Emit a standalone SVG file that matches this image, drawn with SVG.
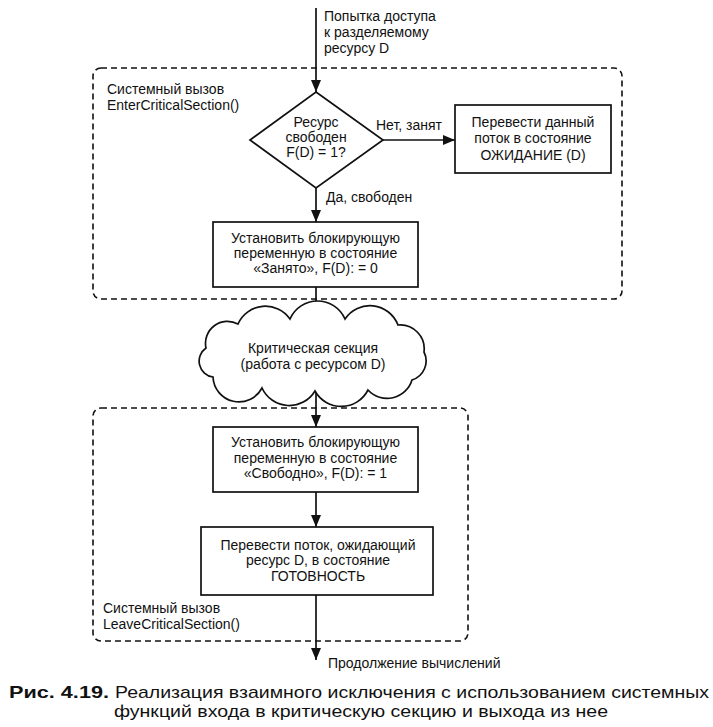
<svg xmlns="http://www.w3.org/2000/svg" width="713" height="727" viewBox="0 0 713 727">
<defs>
<style>
text{font-family:"Liberation Sans",Arial,sans-serif;font-size:14px;fill:#111}
.c{text-anchor:middle}
.box{fill:#fff;stroke:#111;stroke-width:1.7}
.dash{fill:none;stroke:#111;stroke-width:1.6;stroke-dasharray:6 4}
.ln{fill:none;stroke:#111;stroke-width:1.7}
.cap{font-size:17px}
</style>
<marker id="ah" markerUnits="userSpaceOnUse" markerWidth="12" markerHeight="10" refX="12" refY="5" orient="auto">
<path d="M0,0 L12,5 L0,10 z" fill="#111"/>
</marker>
</defs>
<rect width="713" height="727" fill="#fff"/>

<g id="enter-group">
<rect class="dash" x="93" y="68" width="529" height="231" rx="8"/>
<text x="107" y="94">Системный вызов</text>
<text x="107" y="110">EnterCriticalSection()</text>
</g>

<g id="leave-group">
<rect class="dash" x="93" y="408" width="375" height="233" rx="8"/>
<text x="103" y="613">Системный вызов</text>
<text x="103" y="629">LeaveCriticalSection()</text>
</g>

<g id="connectors">
<path class="ln" d="M316,8 L316,92" marker-end="url(#ah)"/>
<path class="ln" d="M383,140 L455,140" marker-end="url(#ah)"/>
<path class="ln" d="M316,188 L316,222" marker-end="url(#ah)"/>
<path class="ln" d="M316,287 L316,319" marker-end="url(#ah)"/>
<path class="ln" d="M316,391 L316,427" marker-end="url(#ah)"/>
<path class="ln" d="M316,492 L316,527" marker-end="url(#ah)"/>
<path class="ln" d="M316,595 L316,660" marker-end="url(#ah)"/>
<text x="324" y="21">Попытка доступа</text>
<text x="324" y="37">к разделяемому</text>
<text x="324" y="53">ресурсу D</text>
<text x="376" y="130">Нет, занят</text>
<text x="326" y="202">Да, свободен</text>
<text x="328" y="668">Продолжение вычислений</text>
</g>

<g id="decision">
<polygon class="box" points="316,92 383,140 316,188 250,140"/>
<text class="c" x="316" y="127">Ресурс</text>
<text class="c" x="316" y="142">свободен</text>
<text class="c" x="316" y="157">F(D) = 1?</text>
</g>

<g id="wait-box">
<rect class="box" x="455" y="105" width="156" height="68"/>
<text class="c" x="533" y="127">Перевести данный</text>
<text class="c" x="533" y="143">поток в состояние</text>
<text class="c" x="533" y="160">ОЖИДАНИЕ (D)</text>
</g>

<g id="lock-box">
<rect class="box" x="213" y="222" width="205" height="65"/>
<text class="c" x="315.5" y="243">Установить блокирующую</text>
<text class="c" x="315.5" y="258">переменную в состояние</text>
<text class="c" x="315.5" y="273">«Занято», F(D): = 0</text>
</g>

<g id="critical-section">
<path class="box" d="M206,348 A22,22 0 0 1 238,324 A30,30 0 0 1 290,319 A30,30 0 0 1 345,319 A30,30 0 0 1 398,325 A24,24 0 0 1 424,352 A20,20 0 0 1 412,380 A26,26 0 0 1 368,390 A30,30 0 0 1 315,391 A30,30 0 0 1 262,388 A26,26 0 0 1 213,377 A16,16 0 0 1 206,348 z"/>
<text class="c" x="313" y="353">Критическая секция</text>
<text class="c" x="313" y="369">(работа с ресурсом D)</text>
</g>

<g id="unlock-box">
<rect class="box" x="213" y="427" width="205" height="65"/>
<text class="c" x="315.5" y="447">Установить блокирующую</text>
<text class="c" x="315.5" y="463">переменную в состояние</text>
<text class="c" x="315.5" y="478">«Свободно», F(D): = 1</text>
</g>

<g id="ready-box">
<rect class="box" x="201" y="527" width="232" height="68"/>
<text class="c" x="318" y="550">Перевести поток, ожидающий</text>
<text class="c" x="318" y="565">ресурс D, в состояние</text>
<text class="c" x="318" y="581">ГОТОВНОСТЬ</text>
</g>

<g id="caption">
<text class="cap" x="9" y="698" font-weight="bold" textLength="100" lengthAdjust="spacingAndGlyphs">Рис. 4.19.</text>
<text class="cap" x="115" y="698" textLength="594" lengthAdjust="spacingAndGlyphs">Реализация взаимного исключения с использованием системных</text>
<text class="cap" x="114" y="717" textLength="494" lengthAdjust="spacingAndGlyphs">функций входа в критическую секцию и выхода из нее</text>
</g>
</svg>
